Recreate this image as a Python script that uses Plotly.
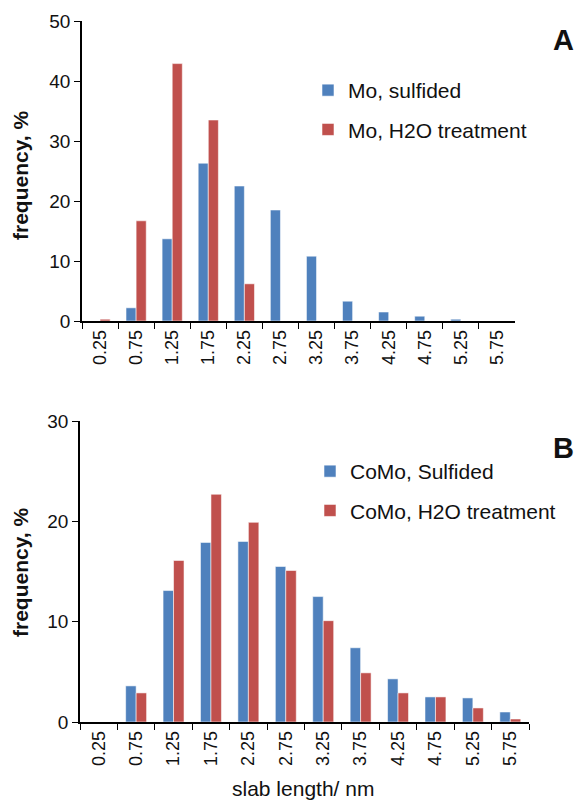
import plotly.graph_objects as go

categories = ["0.25", "0.75", "1.25", "1.75", "2.25", "2.75", "3.25", "3.75", "4.25", "4.75", "5.25", "5.75"]

mo_sulfided = [0, 2.2, 13.7, 26.3, 22.5, 18.5, 10.8, 3.3, 1.5, 0.8, 0.3, 0]
mo_h2o = [0.3, 16.7, 42.9, 33.5, 6.2, 0, 0, 0, 0, 0, 0, 0]

como_sulfided = [0, 3.6, 13.1, 17.9, 18.0, 15.5, 12.5, 7.4, 4.3, 2.5, 2.4, 1.0]
como_h2o = [0, 2.9, 16.1, 22.7, 19.9, 15.1, 10.1, 4.9, 2.9, 2.5, 1.4, 0.3]

BLUE = "#4F81BD"
RED = "#C0504D"
FONT = "Liberation Sans, Arial, sans-serif"
W, H = 574, 802

def px_x(v):
    return v / W

def px_y(v):
    return 1 - v / H

fig = go.Figure()
edge = dict(color="rgba(255,255,255,0.55)", width=1)
fig.add_trace(go.Bar(x=categories, y=mo_sulfided, name="Mo, sulfided", marker=dict(color=BLUE, line=edge),
                     xaxis="x", yaxis="y", legend="legend", legendgroup="a1"))
fig.add_trace(go.Bar(x=categories, y=mo_h2o, name="Mo, H2O treatment", marker=dict(color=RED, line=edge),
                     xaxis="x", yaxis="y", legend="legend", legendgroup="a2"))
fig.add_trace(go.Bar(x=categories, y=como_sulfided, name="CoMo, Sulfided", marker=dict(color=BLUE, line=edge),
                     xaxis="x2", yaxis="y2", legend="legend2", legendgroup="b1"))
fig.add_trace(go.Bar(x=categories, y=como_h2o, name="CoMo, H2O treatment", marker=dict(color=RED, line=edge),
                     xaxis="x2", yaxis="y2", legend="legend2", legendgroup="b2"))

xcommon = dict(type="category", tickson="boundaries", ticks="outside", ticklen=6, tickwidth=1.3,
               tickcolor="black", showline=True, linecolor="black", linewidth=1.5, showgrid=False,
               tickangle=-90, tickfont=dict(size=18, color="#111", family=FONT), automargin=False)
ycommon = dict(ticks="outside", ticklen=6, tickwidth=1.3, tickcolor="black", showline=True,
               linecolor="black", linewidth=1.5, showgrid=False, zeroline=False,
               tickfont=dict(size=19, color="#111", family=FONT), automargin=False)

legcommon = dict(font=dict(size=21, color="#111", family=FONT), bgcolor="rgba(0,0,0,0)",
                 xanchor="left", yanchor="top", traceorder="grouped", tracegroupgap=9)

def ann(text, x, y, size, angle=0):
    return dict(text=text, x=px_x(x), y=px_y(y), xref="paper", yref="paper", xanchor="center",
                yanchor="middle", textangle=angle, showarrow=False,
                font=dict(size=size, family=FONT, color="#111"))

fig.update_layout(
    width=W, height=H,
    margin=dict(l=0, r=0, t=0, b=0),
    paper_bgcolor="white", plot_bgcolor="white",
    barmode="group", bargap=0.44, bargroupgap=0,
    font=dict(family=FONT, color="#111"),
    xaxis=dict(domain=[px_x(82), px_x(515)], anchor="y", **xcommon),
    yaxis=dict(domain=[px_y(321), px_y(21)], anchor="x", range=[0, 50], dtick=10, **ycommon),
    xaxis2=dict(domain=[px_x(80), px_x(529)], anchor="y2", **xcommon),
    yaxis2=dict(domain=[px_y(722), px_y(421)], anchor="x2", range=[0, 30], dtick=10, **ycommon),
    legend=dict(x=px_x(308), y=px_y(70), **legcommon),
    legend2=dict(x=px_x(310), y=px_y(451), **legcommon),
    annotations=[
        ann("<b>frequency, %</b>", 20, 176, 21, -90),
        ann("<b>frequency, %</b>", 20, 573, 21, -90),
        ann("slab length/ nm", 303, 788, 21),
        ann("<b>A</b>", 563, 40, 29),
        ann("<b>B</b>", 563, 448, 29),
    ],
)

fig.write_html("out.html")
